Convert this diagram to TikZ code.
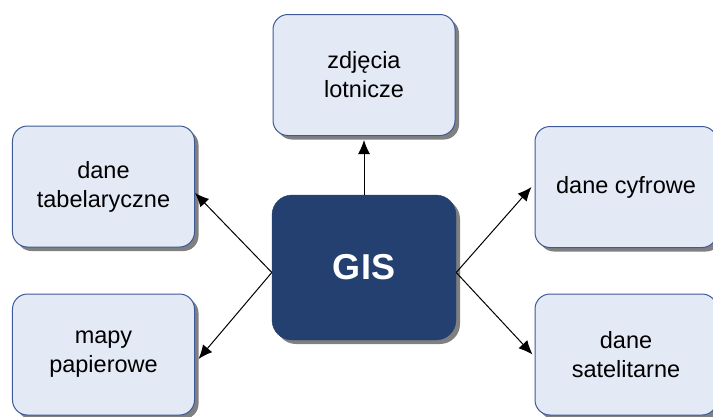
\documentclass[tikz,border=0pt]{standalone}
\usepackage{fontspec}
\setmainfont{Liberation Sans}
\usetikzlibrary{arrows.meta,shadows}

\definecolor{boxfill}{RGB}{228,233,246}
\definecolor{boxline}{RGB}{62,90,150}
\definecolor{gisfill}{RGB}{36,64,113}
\definecolor{shgray}{RGB}{128,128,128}

\tikzset{
  srcbox/.style={draw=boxline, line width=1bp, fill=boxfill,
    rounded corners=15bp, minimum width=182bp, minimum height=121bp,
    inner sep=0pt, align=center, text=black,
    font=\fontsize{23.5bp}{29bp}\selectfont,
    general shadow={fill=shgray, shadow xshift=4bp, shadow yshift=-4bp}},
  hubbox/.style={fill=gisfill, draw=gisfill, rounded corners=20bp,
    minimum width=184bp, minimum height=145bp, inner sep=0pt,
    text=white, font=\fontsize{36bp}{40bp}\selectfont\bfseries,
    general shadow={fill=shgray, shadow xshift=4bp, shadow yshift=-4bp}},
  arr/.style={draw=black, line width=1bp,
    -{Latex[length=14bp,width=12bp]}}
}

\begin{document}
\begin{tikzpicture}[x=1bp,y=-1bp]
  \useasboundingbox (0,0) rectangle (713,416);
  \clip (0,0) rectangle (713,416);

  % central hub
  \node[hubbox] (gis) at (364,267.5) {GIS};

  % data sources
  \node[srcbox] (top) at (364,75)    {zdjęcia\\lotnicze};
  \node[srcbox] (tab) at (103.5,186.5) {dane\\tabelaryczne};
  \node[srcbox] (map) at (103.5,354.5) {mapy\\papierowe};
  \node[srcbox] (cyf) at (626,187)   {dane cyfrowe};
  \node[srcbox] (sat) at (626,354.5) {dane\\satelitarne};

  % connectors from the hub
  \draw[arr] (gis.north) -- ([yshift=-4bp]top.south);
  \draw[arr] ([yshift=-5bp]gis.west) -- ([yshift=-6.5bp]tab.east);
  \draw[arr] ([yshift=-5bp]gis.west) -- ([xshift=3.5bp,yshift=-4.5bp]map.east);
  \draw[arr] ([yshift=-5bp]gis.east) -- ([xshift=-3bp]cyf.west);
  \draw[arr] ([yshift=-5bp]gis.east) -- ([xshift=-2bp]sat.west);
\end{tikzpicture}
\end{document}
